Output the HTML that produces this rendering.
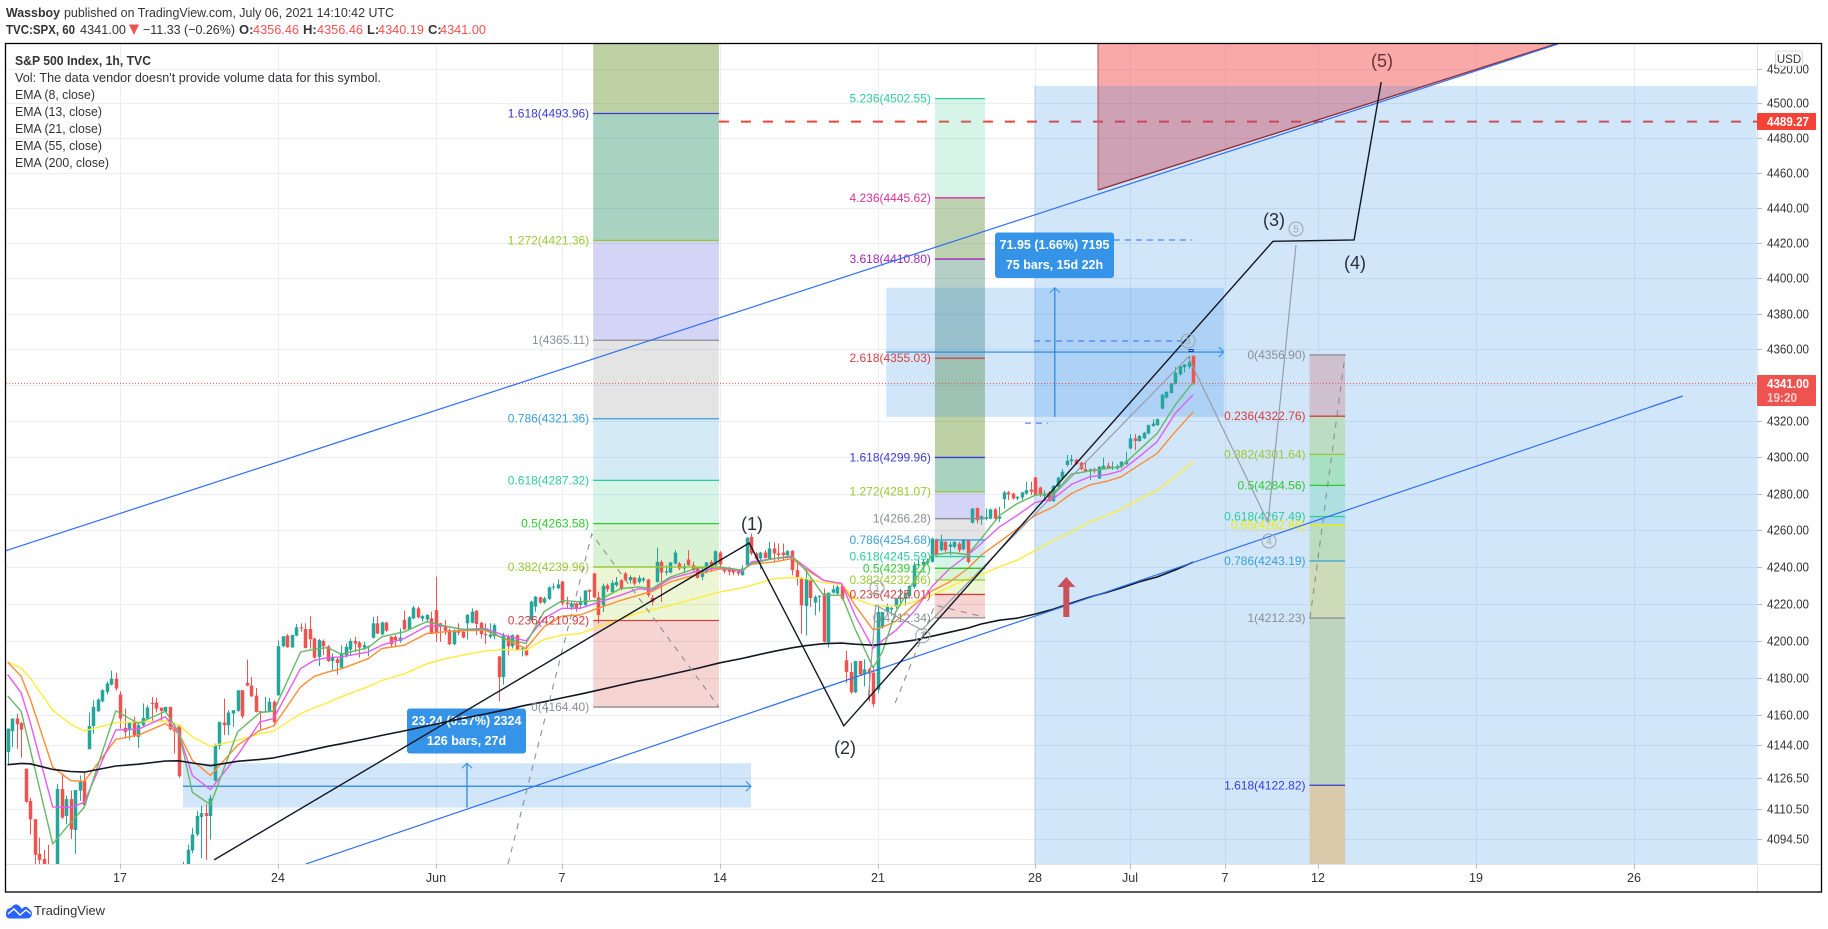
<!DOCTYPE html>
<html lang="en">
<head>
<meta charset="utf-8">
<title>S&amp;P 500 Index 1h chart</title>
<style>
html,body{margin:0;padding:0;background:#fff;width:1828px;height:929px;overflow:hidden}
svg{display:block;font-family:"Liberation Sans",sans-serif}
text{white-space:pre}
</style>
</head>
<body>
<svg id="chart" xmlns="http://www.w3.org/2000/svg" width="1828" height="929" viewBox="0 0 1828 929">
<defs><clipPath id="plotClip"><rect x="6" y="44" width="1751" height="820"/></clipPath></defs>

<g font-size="13" fill="#333">
<text x="6" y="17" font-weight="bold" textLength="54" lengthAdjust="spacingAndGlyphs">Wassboy</text>
<text x="64" y="17" textLength="330" lengthAdjust="spacingAndGlyphs">published on TradingView.com, July 06, 2021 14:10:42 UTC</text>
<text x="6" y="34" font-weight="bold" textLength="69" lengthAdjust="spacingAndGlyphs">TVC:SPX, 60</text>
<text x="80" y="34" textLength="46" lengthAdjust="spacingAndGlyphs">4341.00</text>
<polygon points="129,24.500 139,24.500 134,35" fill="#ef5350"/>
<text x="143" y="34" textLength="92" lengthAdjust="spacingAndGlyphs">−11.33 (−0.26%)</text>
<text x="239" y="34" font-weight="bold">O:</text>
<text x="253" y="34" fill="#ef5350" textLength="46" lengthAdjust="spacingAndGlyphs">4356.46</text>
<text x="303" y="34" font-weight="bold">H:</text>
<text x="317" y="34" fill="#ef5350" textLength="46" lengthAdjust="spacingAndGlyphs">4356.46</text>
<text x="367" y="34" font-weight="bold">L:</text>
<text x="378" y="34" fill="#ef5350" textLength="46" lengthAdjust="spacingAndGlyphs">4340.19</text>
<text x="428" y="34" font-weight="bold">C:</text>
<text x="440" y="34" fill="#ef5350" textLength="46" lengthAdjust="spacingAndGlyphs">4341.00</text>
</g>

<g id="gridLayer" clip-path="url(#plotClip)"></g>
<g id="underLayer" clip-path="url(#plotClip)"></g>
<g id="fibFillLayer" clip-path="url(#plotClip)"></g>
<g id="rangeLayer" clip-path="url(#plotClip)"></g>
<g>
<rect x="407" y="708.500" width="119" height="45" rx="3" fill="#3593e8"/>
<text x="466.500" y="725" text-anchor="middle" font-size="12.500" font-weight="bold" fill="#fff">23.24 (0.57%) 2324</text>
<text x="466.500" y="745" text-anchor="middle" font-size="12.500" font-weight="bold" fill="#fff">126 bars, 27d</text>
</g>
<g>
<rect x="995" y="232.500" width="119" height="45.500" rx="3" fill="#3593e8"/>
<text x="1054.500" y="249" text-anchor="middle" font-size="12.500" font-weight="bold" fill="#fff">71.95 (1.66%) 7195</text>
<text x="1054.500" y="269" text-anchor="middle" font-size="12.500" font-weight="bold" fill="#fff">75 bars, 15d 22h</text>
</g>
<g id="candleLayer" clip-path="url(#plotClip)"></g>
<g id="emaLayer" clip-path="url(#plotClip)"></g>
<g id="fibLineLayer" clip-path="url(#plotClip)"></g>
<g id="drawLayer" clip-path="url(#plotClip)"></g>

<g font-size="18" fill="#2a2e39" text-anchor="middle">
<text x="752" y="530">(1)</text>
<text x="845" y="754">(2)</text>
<text x="1274" y="226">(3)</text>
<text x="1355" y="269">(4)</text>
<text x="1382" y="67" fill="#6e3038">(5)</text>
</g>
<g fill="none" stroke="#a3a6ad" stroke-width="1.100">
<circle cx="877" cy="588" r="7"/>
<circle cx="922.700" cy="635.700" r="7"/>
<circle cx="1188" cy="341" r="7"/>
<circle cx="1269" cy="541" r="7"/>
<circle cx="1296" cy="229" r="7"/>
</g>
<g font-size="10" fill="#a3a6ad" text-anchor="middle">
<text x="877" y="591.500">1</text>
<text x="922.700" y="639.200">2</text>
<text x="1188" y="344.500">3</text>
<text x="1269" y="544.500">4</text>
<text x="1296" y="232.500">5</text>
</g>

<polygon points="1066.300,577 1075.300,587 1069.300,587 1069.300,617 1063.300,617 1063.300,587 1057.300,587" fill="#c9525a"/>

<g font-size="13" fill="#333">
<text x="15" y="65" font-weight="bold" textLength="136" lengthAdjust="spacingAndGlyphs">S&amp;P 500 Index, 1h, TVC</text>
<text x="15" y="82" textLength="366" lengthAdjust="spacingAndGlyphs">Vol: The data vendor doesn't provide volume data for this symbol.</text>
<text x="15" y="99" textLength="80" lengthAdjust="spacingAndGlyphs">EMA (8, close)</text>
<text x="15" y="116" textLength="87" lengthAdjust="spacingAndGlyphs">EMA (13, close)</text>
<text x="15" y="133" textLength="87" lengthAdjust="spacingAndGlyphs">EMA (21, close)</text>
<text x="15" y="150" textLength="87" lengthAdjust="spacingAndGlyphs">EMA (55, close)</text>
<text x="15" y="167" textLength="94" lengthAdjust="spacingAndGlyphs">EMA (200, close)</text>
</g>

<rect x="1757" y="44" width="64" height="848" fill="#fff"/>
<rect x="6" y="864" width="1815" height="28" fill="#fff"/>
<line x1="6" y1="864.500" x2="1821" y2="864.500" stroke="#e0e3eb"/>
<line x1="1757.500" y1="44" x2="1757.500" y2="892" stroke="#e0e3eb"/>
<g id="axisLayer"></g>

<g>
<rect x="1757" y="113" width="59" height="17" rx="1" fill="#f44336"/>
<text x="1767" y="126" font-size="12.500" font-weight="bold" fill="#fff" textLength="42" lengthAdjust="spacingAndGlyphs">4489.27</text>
</g>
<g>
<rect x="1757" y="375" width="59" height="31" rx="1" fill="#ef5350"/>
<text x="1767" y="388" font-size="12.500" font-weight="bold" fill="#fff" textLength="42" lengthAdjust="spacingAndGlyphs">4341.00</text>
<text x="1767" y="402" font-size="12.500" font-weight="bold" fill="#fbd0d0" textLength="30" lengthAdjust="spacingAndGlyphs">19:20</text>
</g>
<g>
<rect x="1775.500" y="51" width="27" height="15" rx="3" fill="#fff" stroke="#d6d8de"/>
<text x="1789" y="63" text-anchor="middle" font-size="11.500" fill="#333">USD</text>
</g>

<rect x="5.500" y="43.500" width="1816" height="848.500" fill="none" stroke="#000" stroke-width="1.300"/>

<g>
<path d="M6 914 C6 909 9 908 11 908 C13 905 16 903.500 18 905 C20 906 21 908 22 909 C24 906 27 906 29 909 C32 911 33 914 31 916.500 C30 918 28 918.500 26 918.500 L10 918.500 C7.500 918.500 6 917 6 914 Z" fill="#2962ff"/>
<path d="M8 914 L14 909 L20 915 L26 910 L31 914" fill="none" stroke="#fff" stroke-width="1.400"/>
<text x="34" y="915" font-size="13" fill="#333" textLength="71" lengthAdjust="spacingAndGlyphs">TradingView</text>
</g>

<script>
// ---------- candle data (bar by bar) ----------
var opens=[4140.5,4151.5,4158.3,4155.8,4131.6,4114.5,4104.9,4086.7,4084,4080,4072.8,4065.7,4120.9,4106.6,4115.5,4099.2,4120,4125.3,4141.9,4154.3,
4162.2,4167.5,4172.5,4176.4,4179.6,4171.1,4153.3,4152,4156.5,4148.5,4154.7,4158.3,4166.6,4166.8,4164.1,4161.8,4164.5,4152.9,4154.7,4058.6,
4079,4088.5,4096.9,4106.1,4108.1,4106.6,4125.3,4143.7,4156.1,4154.7,4160.9,4162.4,4173.4,4177.3,4175.9,4170.5,4162.2,4161.8,4161.8,4167.2,
4170.7,4197.1,4202.8,4196.4,4202.8,4207.2,4206.3,4206.3,4201.2,4191.3,4199.8,4197,4189.1,4190,4185.5,4192.2,4195.2,4199.8,4199,4196.3,
4196.7,4201.6,4209.4,4203.4,4209.7,4202.1,4202.1,4199.9,4211.2,4206.1,4212,4217.5,4211.9,4211.5,4212.1,4216.6,4209.4,4207.5,4205.7,4198.1,
4205.7,4204.8,4209.4,4209.7,4216.2,4209.7,4203.6,4202.1,4202.5,4191.6,4180.4,4202.1,4197,4203,4194.9,4194.9,4211.2,4218.4,4223.5,4220.6,
4222.6,4228.9,4228.4,4232,4220.6,4218.4,4220.2,4219.3,4219.3,4227.5,4236.5,4223.5,4219.1,4230,4226.4,4230,4232.7,4236.4,4232.7,4234.2,
4231.8,4232.7,4233.1,4223.3,4231.8,4242.7,4236.9,4236.9,4241.8,4241.8,4239.1,4244,4240.9,4239.1,4234.5,4237.3,4242.7,4240.9,4247.8,4239.4,
4238.7,4238.2,4237.6,4235.5,4240.9,4256.3,4247.3,4244.5,4247.8,4244.5,4250,4247.3,4247.8,4246.4,4248.7,4238.2,4233.6,4218.7,4232.7,4220.6,
4223.6,4225.5,4199.1,4226,4225.5,4229.6,4189.5,4183.2,4172.3,4189.1,4181.9,4184.6,4182.8,4173.7,4207.3,4215.5,4216.9,4218.2,4222.7,4222.7,
4224.2,4229.1,4240.9,4241.4,4241.8,4242.7,4254.5,4249.1,4253.6,4250.9,4250.9,4252.7,4249.6,4254.5,4264.1,4272.1,4265.9,4266.3,4266.3,4271.4,
4266.3,4277,4280.7,4280.1,4277.4,4277.9,4280.1,4282.3,4288.9,4283.4,4278.8,4280.7,4275.9,4283.8,4288.4,4295.8,4297.9,4298.7,4297,4293.5,
4292.4,4293.5,4288.4,4293.9,4295.4,4293.9,4293.9,4294.8,4296.3,4304.9,4310.5,4309,4310.5,4313.2,4317.3,4317.8,4327,4333.1,4335.7,4340.8,
4346,4350,4350.4,4356.46];
var highs=[4152.9,4158.3,4160.9,4156.5,4131.6,4116.2,4104.9,4095.1,4088.8,4091.5,4078.2,4123.6,4128.9,4117.3,4120,4120.3,4128,4129.8,4161.5,4168,
4169,4173.9,4178.2,4183.9,4182.8,4172.9,4163.6,4156.5,4159.2,4156.8,4166.3,4165.4,4169.8,4169.3,4164.1,4164.5,4164.5,4153.8,4154.7,4082.6,
4091.5,4100.4,4109.3,4112,4112.9,4117.7,4144.9,4156.5,4168.9,4162.7,4162.7,4173.4,4173.4,4189.8,4180.5,4174.6,4162.2,4169.8,4169.3,4168.1,
4200.1,4202.4,4203.6,4203.1,4209,4209.4,4209.4,4213.3,4201.7,4201,4200.7,4197.6,4193.1,4190.9,4197.6,4198.5,4201.2,4202.1,4199.9,4199.4,
4197.4,4213,4213.3,4210.3,4210.3,4202.5,4203,4206.6,4216.2,4213.3,4218.8,4218.4,4213.9,4214.4,4215.7,4234.7,4209.7,4211.2,4206.6,4206.1,
4209.4,4206.1,4214.4,4217.5,4216.6,4210.3,4209.4,4209.4,4209.4,4191.6,4204.3,4203.4,4203.4,4203.4,4196.7,4197.6,4221.7,4224.2,4223.8,4223.8,
4229.3,4231.1,4233.2,4232.3,4223.8,4221.1,4220.6,4223.8,4227.5,4227.8,4236.5,4226.5,4230.9,4230.9,4232.7,4234.5,4233.3,4237.3,4235.4,4234.5,
4235.4,4234.5,4233.6,4224.6,4250.5,4243.6,4240.9,4242.7,4249.1,4242.7,4241.8,4249.1,4242.7,4240,4239.1,4242.7,4243.6,4249.1,4248.5,4240,
4240,4239.1,4238.7,4240.9,4256.3,4258.2,4248.2,4248.2,4249.1,4253.6,4253.3,4252.7,4252.7,4249.1,4249.1,4242.7,4234.5,4239.1,4233.6,4224.6,
4224.6,4228.2,4226,4230,4230,4230,4194.6,4188.2,4189.1,4189.1,4190,4185.5,4186.4,4219.5,4215.5,4220,4218.2,4223.1,4228.2,4225.8,
4230,4242.7,4244.5,4244.5,4244.5,4255.8,4255.4,4257.6,4254,4253.6,4254,4253.6,4255.1,4254.5,4272.1,4272.5,4268.1,4271.8,4271.8,4272.1,
4272.7,4281.6,4281.6,4280.5,4278.6,4281,4286.6,4286.6,4289.3,4283.8,4281.9,4281.4,4284.7,4289.3,4293.5,4301.3,4301.3,4299.1,4297.6,4297.6,
4293.9,4294.3,4295.2,4299.8,4297.2,4297.6,4296.1,4298,4303.1,4312.9,4312.9,4312.3,4314.1,4318.2,4321.1,4321.5,4335.3,4336.6,4341.2,4350,
4350.9,4351.8,4356.4,4356.46];
var lows=[4133.3,4143.1,4142.2,4137.4,4113.6,4096.8,4081.4,4078.2,4074.6,4067.5,4060.4,4063.9,4105.2,4102.2,4094.5,4086.7,4114.6,4112,4141.9,4150.2,
4161.8,4166.8,4171.1,4176,4173.2,4152.9,4147.6,4146.7,4148.3,4142.6,4153.8,4157.9,4156.5,4161.5,4156.5,4161.5,4152,4139.6,4126.8,4056.8,
4078.2,4087,4096,4084.4,4083.5,4094.2,4124.8,4141.9,4149.4,4149.4,4153.8,4161.8,4158.3,4175.5,4169.8,4161.5,4152,4161.6,4161.5,4154.3,
4170.4,4196.5,4196.2,4196.2,4202.4,4204.8,4195.8,4195.8,4190.3,4186.4,4192.2,4188.5,4184,4181.8,4184.9,4190.9,4192.2,4194,4190.9,4194.9,
4191.6,4201.2,4203.6,4203,4204.8,4196.7,4196.7,4198.9,4205.8,4205.8,4211.7,4212,4210.3,4210.3,4203.6,4199.4,4199.4,4203,4197.6,4197.6,
4203,4201.2,4200.7,4209.4,4203,4201.2,4198.1,4201.2,4200.7,4167.4,4176.4,4192.2,4195.8,4194.5,4191.6,4191.6,4210.8,4215.7,4219.9,4219.9,
4222,4227.5,4227.8,4218.9,4217.5,4216.6,4215.7,4217,4218.8,4222,4222.9,4209.4,4215.5,4226.4,4225.5,4229.1,4227.3,4232.2,4230.9,4230,
4230.9,4231.5,4223.6,4219.1,4231.4,4220.9,4235.4,4236.4,4241.3,4238.2,4236.4,4240.5,4237.3,4233.6,4232.7,4236.4,4237.3,4240,4240,4236.4,
4235.4,4235.4,4235.1,4235.1,4240,4246.3,4243.6,4238.7,4244.5,4244.2,4242.7,4243.6,4243.6,4244.5,4235.4,4230,4203.7,4202.8,4218.2,4213.7,
4215.8,4199.1,4196.4,4225.5,4224.6,4221.8,4177.3,4171.5,4171.9,4181.3,4175.5,4167.4,4164.3,4171.9,4206.4,4214.6,4213.7,4217.3,4219.5,4219.1,
4222.7,4228.2,4240,4240.9,4240.9,4242.4,4246,4248.5,4248.2,4246.4,4250,4247.8,4248.9,4241.8,4263.6,4263.6,4263,4265.4,4265.9,4265.9,
4264.5,4271.8,4276.4,4276.8,4276.4,4276.4,4279.2,4279.2,4278.8,4278.3,4277.4,4275.5,4275.5,4283.2,4287.5,4294.8,4295.8,4295.8,4293,4292.1,
4287.5,4291.2,4288,4293.5,4293.5,4293,4293,4293.9,4295.8,4304.6,4304,4308.6,4310.1,4312.7,4316.9,4317.4,4326.6,4332.5,4335.3,4340.3,
4345.4,4347.2,4349.1,4340.19];
var closes=[4152.9,4158.3,4155.2,4152.4,4114.1,4104.9,4086.2,4083.5,4078.2,4072.8,4064,4120.9,4105.7,4115.5,4099.5,4120.3,4125.3,4112.3,4154.3,4164.5,
4168.4,4173.4,4177,4179.6,4174.3,4158.3,4151.1,4156.5,4149,4154.7,4158.6,4164.1,4166.3,4163.6,4162.4,4164.5,4152.6,4151.5,4127.6,4072.8,
4088.8,4096.9,4106.6,4108.1,4106.6,4115.9,4144,4156.5,4154.7,4161.5,4162.7,4173.4,4159.5,4175.9,4170.2,4161.8,4161.6,4162.2,4167.2,4156.5,
4197.1,4202.4,4196.5,4203.1,4207.2,4206.7,4196.1,4200.8,4190.9,4200.3,4197,4189.1,4190.9,4188,4193.4,4196.7,4199.9,4198.5,4196.3,4197.6,
4197,4209.4,4203.9,4209.9,4205.4,4198.1,4200.3,4201.7,4206.1,4212.6,4217.9,4212.6,4213.3,4213.9,4203.6,4203.9,4207.5,4205.4,4198.1,4205.7,
4204.3,4201.7,4213.9,4215.7,4209,4203.6,4203,4203.4,4208.4,4180.4,4203,4197,4203,4194.9,4195.8,4192.2,4221.1,4223.8,4220.6,4222.9,
4228.9,4229.3,4230.5,4220.2,4219.8,4220.2,4217.5,4221.1,4227.1,4226.5,4223.5,4213.9,4229.6,4227.8,4231.3,4231.8,4227.8,4232.7,4234.5,4230.9,
4234,4233.6,4224.6,4220.9,4242.7,4236.9,4237.6,4242.4,4247.8,4239.1,4240.4,4240.9,4238.2,4234,4238.2,4242.4,4239.1,4248.5,4241.3,4237.6,
4237.3,4236.9,4236.4,4239.1,4255.8,4247.3,4244.5,4247.8,4244.9,4250,4247.3,4246.4,4246.4,4248.5,4238.2,4234.5,4219.1,4233.6,4223.1,4223.6,
4224.2,4199.5,4226,4227.8,4229.1,4222.7,4183.2,4172.3,4189.1,4181.9,4184.6,4182.4,4166.1,4215.5,4215.5,4218.2,4217.7,4222.7,4223.1,4225.5,
4229.6,4240.9,4241.4,4242.7,4243.3,4255.4,4246.4,4254,4249.1,4252.2,4253.6,4249.1,4254.5,4242.7,4271.8,4265.4,4267.6,4267.2,4271.4,4266.3,
4267.6,4280.7,4279.6,4277.4,4278.3,4280.7,4281.9,4281,4279.2,4279.2,4280.1,4275.9,4284.3,4288.8,4292.1,4298.1,4298.9,4296.3,4293.5,4292.4,
4293.4,4292.4,4294.8,4295.4,4293.9,4294.8,4295.2,4297.6,4298,4310.5,4309,4311.8,4313.6,4317.8,4318.7,4321.1,4334.7,4336.2,4340.8,4346.9,
4350.6,4351.5,4352.8,4341];

// ---------- EMA samples: bar index and value ----------
var emaBars=[0,3,5,10,14,17,24,29,35,38,41,45,51,56,59,65,68,71,74,80,83,88,93,97,101,106,110,115,119,123,127,131,136,140,143,147,153,158,163,165,170,174,177,181,185,188,192,194,197,201,205,209,213,216,220,224,228,232,236,240,244,247,251,255,259,263];
var ema8=[4170.4,4162.2,4142.2,4091.9,4103.1,4111.1,4162.4,4155.6,4162.2,4151.1,4119.1,4112.5,4151.1,4161.5,4162.2,4193.9,4195.4,4196.3,4192.7,4196.3,4202.1,4204.8,4210.3,4207.9,4206.1,4206.1,4201.2,4198.5,4215.7,4221.7,4221.1,4221.7,4228.2,4229.1,4228.2,4234.5,4239.4,4240,4238.2,4241.8,4244.5,4246,4238.2,4224.6,4224.6,4206.4,4185.5,4193.7,4215.5,4231.8,4246.3,4247.8,4246.7,4255.4,4268.1,4274.6,4279.2,4280.1,4290.8,4292.4,4293.9,4294.8,4304,4313.2,4328.9,4341.7];
var ema13=[4181.9,4172.1,4156.5,4111.4,4111.1,4113.8,4152.2,4152.6,4159.2,4150.2,4128,4120.5,4138.7,4156.5,4158.3,4185,4189.4,4190.9,4191.3,4194,4197.6,4201.2,4207.9,4207.9,4206.1,4206.6,4203,4199.9,4212.1,4217.5,4217.5,4220.6,4224.6,4228.2,4227.3,4233.6,4237.6,4239.6,4237.6,4242.7,4244.5,4245.4,4240,4232.7,4230.9,4213.7,4195.9,4200,4205.5,4215.5,4229.1,4239.1,4246.4,4252.7,4261.8,4268.2,4275.2,4277.4,4285.1,4289.3,4290.6,4292.6,4300.3,4308.6,4324.3,4334.7];
var ema21=[4188.5,4180.9,4168.9,4132.4,4125.3,4124.8,4147.2,4149.4,4155.6,4150.2,4136,4128,4144,4152,4154.3,4175.2,4180.8,4183.1,4184.9,4190.3,4195.8,4197.6,4203.9,4204.8,4205.4,4205.7,4201.2,4195.8,4207.5,4213.3,4213.9,4217.5,4221.8,4224.6,4226.7,4231.8,4236,4238.9,4238.2,4241.4,4242.7,4244.5,4238.7,4232.7,4230.9,4219.1,4205.9,4207.3,4210.4,4219.1,4226.9,4231.8,4239.1,4246.4,4253.6,4260.8,4268.2,4272.8,4280.1,4284.7,4286.9,4289.3,4295.7,4302.2,4314.1,4325.2];
var ema55=[4188.5,4185.3,4180,4162.7,4155.2,4151.7,4156.1,4156.5,4157,4154.7,4148.5,4143.5,4146.7,4150.2,4151.5,4160.9,4164.1,4166.8,4169.9,4175.3,4178.6,4182.2,4187.6,4190.3,4192.2,4194.5,4195.2,4194.9,4200.7,4203,4203.9,4207.5,4211.8,4215.1,4216.9,4219.1,4223.1,4226.4,4228.6,4230,4233.6,4234.2,4233.6,4231.5,4230.4,4222.7,4219.1,4218.7,4218.7,4220.9,4224.6,4229.1,4233.6,4235.8,4240,4243.7,4248.9,4254.4,4259,4264.5,4268.2,4271.5,4277,4281.9,4289.3,4297.6];
var ema200=[4133.7,4134.4,4134.2,4131.2,4130.1,4129.8,4133,4134,4135.7,4135.8,4134.6,4133.2,4135.5,4136.5,4137.3,4140.3,4141.9,4143.5,4144.8,4147.7,4149.3,4151.7,4154.3,4156.3,4158.4,4160.7,4162.7,4165.4,4167.2,4169.3,4171.3,4173.4,4176.2,4178.4,4179.7,4181.9,4185.1,4188.1,4190.5,4191.6,4194.3,4196.2,4197.3,4198.4,4198.7,4198.1,4197.6,4198.1,4198.9,4200.3,4202.4,4204.6,4206.8,4209,4211.1,4212.2,4214.4,4217.1,4220.4,4223.6,4226.3,4228.5,4231.8,4234.5,4238.3,4242.6];

// ---------- axis data ----------
var priceTicks=[4520,4500,4480,4460,4440,4420,4400,4380,4360,4340,4320,4300,4280,4260,4240,4220,4200,4180,4160,4144,4126.5,4110.5,4094.5];
var timeTickBars=[25,60,95,123,158,193,228,249,270,290.7,325.7,360.8];
var timeTickLabels=['17','24','Jun','7','14','21','28','Jul','7','12','19','26'];

// ---------- fibonacci retracement tools ----------
var fib1Bars=[129.9,157.8];
var fib1Levels=['0','0.236','0.382','0.5','0.618','0.786','1','1.272','1.618','2.618'];
var fib1Prices=[4164.40,4210.92,4239.96,4263.58,4287.32,4321.36,4365.11,4421.36,4493.96,4689.40];
var fib2Bars=[205.7,216.8];
var fib2Levels=['0','0.236','0.382','0.5','0.618','0.786','1','1.272','1.618','2.618','3.618','4.236','5.236'];
var fib2Prices=[4212.34,4225.01,4232.86,4239.21,4245.59,4254.68,4266.28,4281.07,4299.96,4355.03,4410.80,4445.62,4502.55];
var fib3Bars=[288.8,296.7];
var fib3Levels=['0','0.236','0.382','0.5','0.618','0.65','0.786','1','1.618','2.618'];
var fib3Prices=[4356.90,4322.76,4301.64,4284.56,4267.49,4262.86,4243.19,4212.23,4122.82,3978.20];

// ---------- drawing anchors: bar index and price ----------
var waveBars=[45.8,164.5,185.5,280.7,298.7,304.7];
var wavePrices=[4083.5,4253.0,4154.4,4420.9,4421.7,4512.2];
var minorWaveBars=[190.9,192.6,202.8,261.9,279.6,285.8];
var minorWavePrices=[4168.2,4219.2,4205.8,4355.7,4264.4,4418.8];
var lowerChannelBars=[66.2,371.6];
var lowerChannelPrices=[4081.4,4334.0];
var upperChannelBars=[-0.5,343.9];
var upperChannelPrices=[4248.7,4534.2];
var fib1TrendBars=[111,129.6,157.8];
var fib1TrendPrices=[4081.4,4257.9,4164.4];
var fib2TrendBars=[196.9,205.7,216.8];
var fib2TrendPrices=[4166.6,4219.2,4212.7];
var fib3TrendBars=[288.9,296.7];
var fib3TrendPrices=[4212.3,4357.0];
var triangleBars=[241.9,241.9,343.4];
var trianglePrices=[4450.1,4534.2,4534.2];
var alertPrice=4489.27;
var lastPrice=4341.00;
var projectionBars=[227.7,388];
var projectionPrices=[4509.9,4081.4];
var range1Bars=[38.9,164.9,101.9];
var range1Prices=[4134.5,4111,4122.3];
var range2Bars=[194.9,269.8,232.3];
var range2Prices=[4394.6,4322.4,4358.5];

// ---------- scale functions ----------
function xOf(bar){return 7.6+4.508*bar;}
function yOf(price){return 68.5+7793*Math.log(4520/price);}
function priceText(v){return v.toFixed(2);}
function clampY(y){return Math.max(44,Math.min(864,y));}

var NS='http://www.w3.org/2000/svg';
function mk(tag,attrs,parent){
  var n=document.createElementNS(NS,tag);
  for(var k in attrs){n.setAttribute(k,attrs[k]);}
  parent.appendChild(n);
  return n;
}
function pts(bars,prices){
  return bars.map(function(b,i){return xOf(b).toFixed(1)+','+yOf(prices[i]).toFixed(1);}).join(' ');
}
var gridLayer=document.getElementById('gridLayer');
var underLayer=document.getElementById('underLayer');
var fibFillLayer=document.getElementById('fibFillLayer');
var rangeLayer=document.getElementById('rangeLayer');
var candleLayer=document.getElementById('candleLayer');
var emaLayer=document.getElementById('emaLayer');
var fibLineLayer=document.getElementById('fibLineLayer');
var drawLayer=document.getElementById('drawLayer');
var axisLayer=document.getElementById('axisLayer');
var el;

// grid + axis ticks
priceTicks.forEach(function(p){
  var y=Math.round(yOf(p))+0.5;
  el=mk('line',{x1:6,x2:1757,y1:y,y2:y,stroke:'#ebeef4'},gridLayer);
  
  
  el=mk('line',{x1:1757,x2:1762,y1:y,y2:y,stroke:'#b8bbc4'},axisLayer);
  
  
  el=mk('text',{x:1767,y:y+4,'font-size':12.5,fill:'#333',textLength:42,lengthAdjust:'spacingAndGlyphs'},axisLayer);
  el.textContent=priceText(p);
  
  
});
timeTickBars.forEach(function(b,i){
  var x=Math.round(xOf(b))+0.5;
  el=mk('line',{x1:x,x2:x,y1:44,y2:864,stroke:'#ebeef4'},gridLayer);
  
  
  el=mk('line',{x1:x,x2:x,y1:864,y2:869,stroke:'#b8bbc4'},axisLayer);
  
  
  el=mk('text',{x:x-0.5,y:882,'font-size':12.5,fill:'#333','text-anchor':'middle'},axisLayer);
  el.textContent=timeTickLabels[i];
  
  
});

// horizontal alert + target triangle sit under the projection zone
var yAlert=yOf(alertPrice);
el=mk('line',{x1:xOf(fib1Bars[1]),x2:1757,y1:yAlert,y2:yAlert,stroke:'#f44336','stroke-width':2,'stroke-dasharray':'10 12'},underLayer);


el=mk('polygon',{points:pts(triangleBars,trianglePrices),fill:'rgba(244,50,50,.42)',stroke:'none'},underLayer);


el=mk('rect',{x:xOf(projectionBars[0]),y:yOf(projectionPrices[0]),width:xOf(projectionBars[1])-xOf(projectionBars[0]),height:yOf(projectionPrices[1])-yOf(projectionPrices[0]),fill:'rgba(30,130,230,.2)'},underLayer);



// fib band fills
var fib1Fills=['rgba(210,60,50,.22)','rgba(160,210,40,.2)','rgba(70,190,40,.2)','rgba(50,205,140,.2)','rgba(40,150,205,.2)','rgba(120,120,120,.2)','rgba(60,60,220,.22)','rgba(25,140,90,.38)','rgba(90,140,30,.4)'];
var fib2Fills=['rgba(210,60,50,.22)','rgba(160,210,40,.2)','rgba(70,190,40,.2)','rgba(50,205,140,.2)','rgba(40,150,205,.2)','rgba(120,120,120,.2)','rgba(60,60,220,.22)','rgba(25,140,90,.38)','rgba(90,140,30,.4)','rgba(80,140,120,.42)','rgba(90,140,60,.4)','rgba(50,205,140,.2)'];
var fib3Fills=['#cfc0d0','#bddcc4','#a8e0c4','#aee0e0','#a6d6ee','#bcdcc0','#cddcb8','#bfd3bf','#d9cba9'];
var levelColors={'0':'#8b8e96','0.236':'#d23f3f','0.382':'#9ac834','0.5':'#30c930','0.618':'#2fcb9a','0.65':'#eded00','0.786':'#3a9ed8','1':'#8b8e96','1.272':'#9ac834','1.618':'#3b3bd0','2.618':'#d23f3f','3.618':'#9c27b0','4.236':'#d6319f','5.236':'#2fcb9a'};

function drawFib(bars,levels,prices,fills){
  var x0=xOf(bars[0]),x1=xOf(bars[1]);
  fills.forEach(function(f,i){
    var ya=clampY(yOf(prices[i])),yb=clampY(yOf(prices[i+1]));
    el=mk('rect',{x:x0,y:Math.min(ya,yb),width:x1-x0,height:Math.abs(yb-ya),fill:f},fibFillLayer);
    
    
  });
  levels.forEach(function(l,i){
    var y=yOf(prices[i]);
    if(y<44||y>864){return;}
    el=mk('line',{x1:x0,x2:x1,y1:y,y2:y,stroke:levelColors[l],'stroke-width':1.3},fibLineLayer);
    
    
    el=mk('text',{x:x0-4,y:y+4,'font-size':12,fill:levelColors[l],'text-anchor':'end'},fibLineLayer);
    el.textContent=l+'('+priceText(prices[i])+')';
    
    
  });
}
drawFib(fib1Bars,fib1Levels,fib1Prices,fib1Fills);
drawFib(fib2Bars,fib2Levels,fib2Prices,fib2Fills);
drawFib(fib3Bars,fib3Levels,fib3Prices,fib3Fills);

// measure ranges
function drawRange(bars,prices,name){
  var x0=xOf(bars[0]),x1=xOf(bars[1]),xm=xOf(bars[2]),yt=yOf(prices[0]),yb=yOf(prices[1]),ym=yOf(prices[2]);
  el=mk('rect',{x:x0,y:yt,width:x1-x0,height:yb-yt,fill:'rgba(30,130,230,.2)'},rangeLayer);
  
  
  el=mk('line',{x1:x0,x2:x1,y1:ym,y2:ym,stroke:'#2383d8','stroke-width':1.2},rangeLayer);
  
  
  el=mk('polyline',{points:(x1-5)+','+(ym-5)+' '+x1+','+ym+' '+(x1-5)+','+(ym+5),fill:'none',stroke:'#3b9bec','stroke-width':1.2},rangeLayer);
  
  
  el=mk('line',{x1:xm,x2:xm,y1:yb,y2:yt,stroke:'#2383d8','stroke-width':1.2},rangeLayer);
  
  
  el=mk('polyline',{points:(xm-5)+','+(yt+5)+' '+xm+','+yt+' '+(xm+5)+','+(yt+5),fill:'none',stroke:'#3b9bec','stroke-width':1.2},rangeLayer);
  
  
}
drawRange(range1Bars,range1Prices,'range-one');
drawRange(range2Bars,range2Prices,'range-two');

// candles
opens.forEach(function(o,i){
  var c=closes[i];
  var col=c>=o?'#26a69a':'#ef5350';
  var x=Math.round(xOf(i));
  var yh=yOf(highs[i]),yl=yOf(lows[i]);
  var yt=yOf(Math.max(o,c)),yb=yOf(Math.min(o,c));
  el=mk('rect',{x:x,y:yh,width:1,height:Math.max(1,yl-yh),fill:col},candleLayer);
  
  
  el=mk('rect',{x:x-1.25,y:yt,width:3.5,height:Math.max(1,yb-yt),fill:col},candleLayer);
  
  
});

// EMA lines
function drawEma(values,color,width,name){
  el=mk('polyline',{points:pts(emaBars,values),fill:'none',stroke:color,'stroke-width':width,'stroke-linejoin':'round'},emaLayer);
  
  
}
drawEma(ema55,'#ffeb3b',1.4,'ema-55-line');
drawEma(ema21,'#ff8c32',1.4,'ema-21-line');
drawEma(ema13,'#e35cf2',1.4,'ema-13-line');
drawEma(ema8,'#66b866',1.4,'ema-8-line');
drawEma(ema200,'#131722',1.6,'ema-200-line');

// dotted last price line
var yLast=yOf(lastPrice);
el=mk('line',{x1:6,x2:1757,y1:yLast,y2:yLast,stroke:'#ef5350','stroke-width':1,'stroke-dasharray':'1 2'},drawLayer);



// target triangle edges + channels
el=mk('polyline',{points:xOf(triangleBars[1])+','+yOf(trianglePrices[1])+' '+xOf(triangleBars[0])+','+yOf(trianglePrices[0]),fill:'none',stroke:'#c46a70','stroke-width':1.3},drawLayer);


el=mk('polyline',{points:xOf(triangleBars[0])+','+yOf(trianglePrices[0])+' '+xOf(triangleBars[2])+','+yOf(trianglePrices[2]),fill:'none',stroke:'#8e2b33','stroke-width':1.3},drawLayer);


el=mk('polyline',{points:pts(upperChannelBars,upperChannelPrices),fill:'none',stroke:'#2f6ff0','stroke-width':1.2},drawLayer);


el=mk('polyline',{points:pts(lowerChannelBars,lowerChannelPrices),fill:'none',stroke:'#2f6ff0','stroke-width':1.2},drawLayer);



// fib trend dashed lines
[[fib1TrendBars,fib1TrendPrices],[fib2TrendBars,fib2TrendPrices],[fib3TrendBars,fib3TrendPrices]].forEach(function(t){
  el=mk('polyline',{points:pts(t[0],t[1]),fill:'none',stroke:'#8b8e96','stroke-width':1.1,'stroke-dasharray':'6 6'},drawLayer);
  
  
});

// wave paths
el=mk('polyline',{points:pts(minorWaveBars,minorWavePrices),fill:'none',stroke:'#9a9da5','stroke-width':1.2},drawLayer);


el=mk('polyline',{points:pts(waveBars,wavePrices),fill:'none',stroke:'#131722','stroke-width':1.4},drawLayer);



// blue dashed level stubs
var stubBars=[[245.4,262.8],[227.7,260.6],[225.7,230.8]];
var stubPrices=[4421.6,4364.7,4318.9];
stubBars.forEach(function(b,i){
  var y=yOf(stubPrices[i]);
  el=mk('line',{x1:xOf(b[0]),x2:xOf(b[1]),y1:y,y2:y,stroke:'#2f6ff0','stroke-width':1,'stroke-dasharray':'6 5'},drawLayer);
  
  
});
el=mk('rect',{x:xOf(263)-4,y:349.5,width:4,height:2,fill:'none',stroke:'#1a3a9c','stroke-width':1},drawLayer);


</script>
</svg>
</body>
</html>
